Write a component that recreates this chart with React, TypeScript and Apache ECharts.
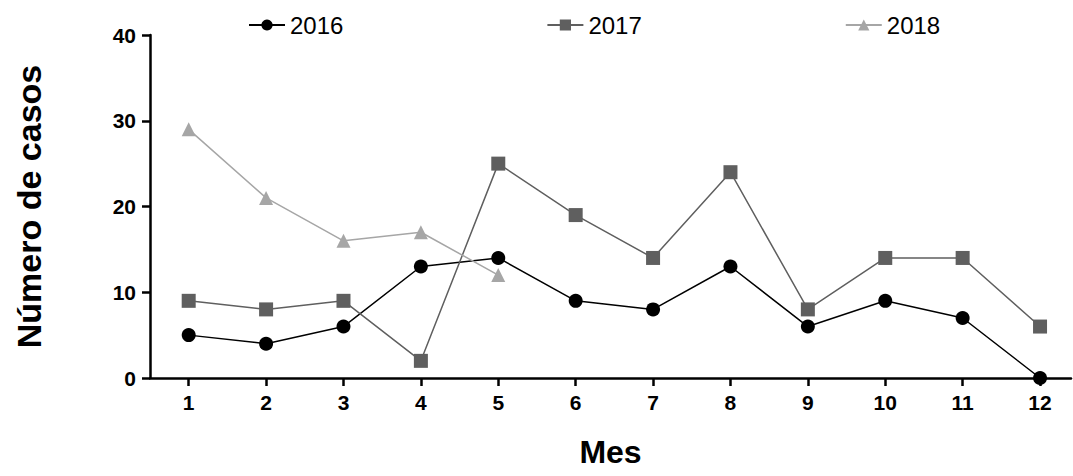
import React, { useEffect, useRef } from "react";
import * as echarts from "echarts";

const months = [1, 2, 3, 4, 5, 6, 7, 8, 9, 10, 11, 12];
const s2016 = [5, 4, 6, 13, 14, 9, 8, 13, 6, 9, 7, 0];
const s2017 = [9, 8, 9, 2, 25, 19, 14, 24, 8, 14, 14, 6];
const s2018 = [29, 21, 16, 17, 12];
const yTicks = [0, 10, 20, 30, 40];

export default function App() {
  const ref = useRef<HTMLDivElement>(null);
  useEffect(() => {
    const chart = echarts.init(ref.current!, null, { renderer: "svg" });
    const font = "'Liberation Sans', Arial, sans-serif";
    const mk = (name: string, data: number[], color: string, symbol: string, size: number) => ({
      name,
      type: "line",
      data: data.map((v, i) => [months[i], v]),
      symbol,
      symbolSize: size,
      lineStyle: { color, width: 1.5 },
      itemStyle: { color },
    });
    chart.setOption({
      animation: false,
      textStyle: { fontFamily: font },
      legend: {
        top: 8,
        left: 243,
        itemGap: 203,
        itemWidth: 36,
        itemHeight: 14,
        textStyle: { fontSize: 24, fontFamily: font, color: "#000" },
        data: ["2016", "2017", "2018"],
      },
      grid: { left: 150, right: 2, top: 35, bottom: 98, outerBoundsMode: "none", containLabel: false },
      xAxis: {
        type: "value",
        min: 0.5,
        max: 12.4,
        name: "Mes",
        nameLocation: "middle",
        nameGap: 58,
        nameTextStyle: { fontSize: 32, fontWeight: "bold", color: "#000", fontFamily: font },
        axisLine: { lineStyle: { color: "#000", width: 2.5 } },
        axisTick: { show: true, customValues: months, length: 8, lineStyle: { color: "#000", width: 2.5 } },
        axisLabel: { customValues: months, fontSize: 21, fontWeight: "bold", color: "#000", margin: 14, fontFamily: font },
        splitLine: { show: false },
      },
      yAxis: {
        type: "value",
        min: 0,
        max: 40,
        interval: 10,
        name: "Número de casos",
        nameLocation: "middle",
        nameGap: 104,
        nameTextStyle: { fontSize: 34, fontWeight: "bold", color: "#000", fontFamily: font },
        axisLine: { show: true, lineStyle: { color: "#000", width: 2.5 } },
        axisTick: { show: true, length: 8, lineStyle: { color: "#000", width: 2.5 } },
        axisLabel: { fontSize: 21, fontWeight: "bold", color: "#000", margin: 14, fontFamily: font,
          customValues: yTicks },
        splitLine: { show: false },
      },
      series: [
        mk("2016", s2016, "#000000", "circle", 14),
        mk("2017", s2017, "#5f5f5f", "rect", 14),
        mk("2018", s2018, "#a6a6a6", "triangle", 14),
      ],
    });
    return () => chart.dispose();
  }, []);
  return <div ref={ref} style={{ position: "absolute", left: 0, top: 0, width: 1073, height: 476 }} />;
}
